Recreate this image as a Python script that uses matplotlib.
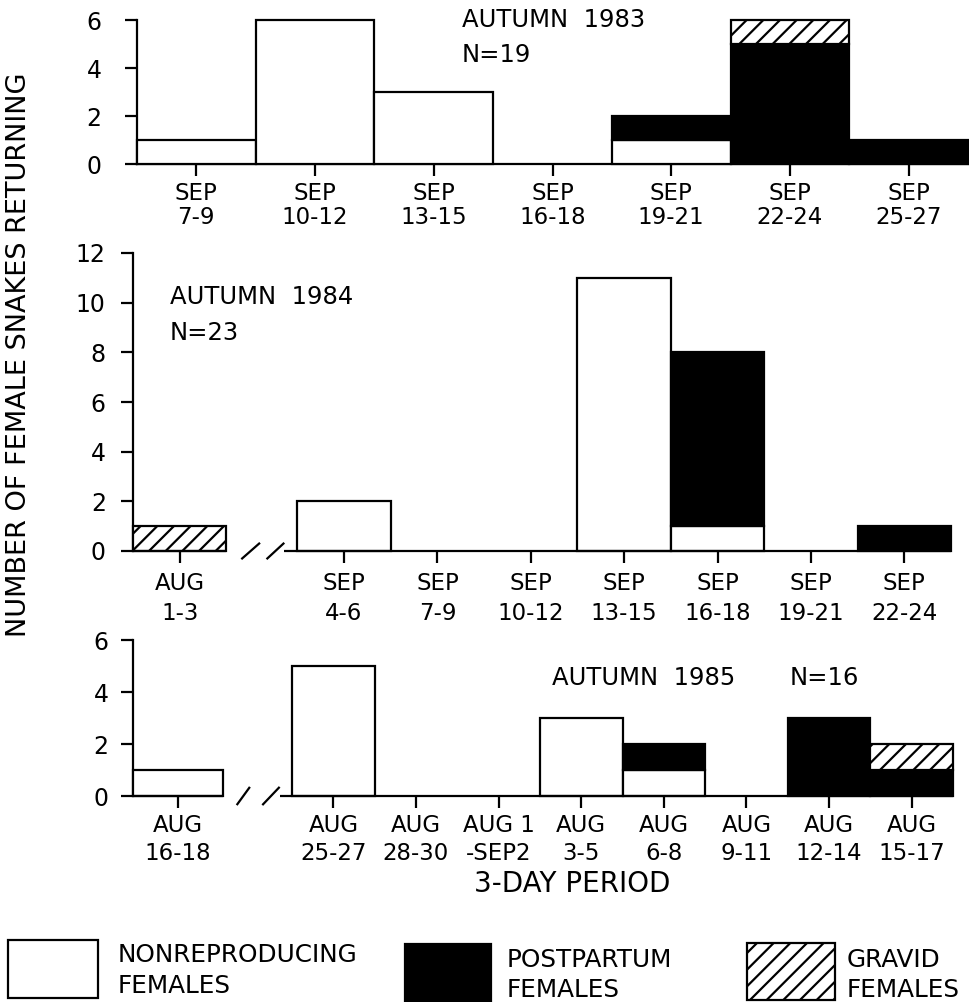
import numpy as np
import matplotlib.pyplot as plt
from matplotlib.patches import Rectangle

plt.rcParams['font.family'] = 'DejaVu Sans'
plt.rcParams['hatch.linewidth'] = 1.6

# Autumn 1983 (N=19)
labels_83 = ['SEP\n7-9', 'SEP\n10-12', 'SEP\n13-15', 'SEP\n16-18',
             'SEP\n19-21', 'SEP\n22-24', 'SEP\n25-27']
nonrepro_83 = [1, 6, 3, 0, 1, 0, 0]
postpartum_83 = [0, 0, 0, 0, 1, 5, 1]
gravid_83 = [0, 0, 0, 0, 0, 1, 0]

# Autumn 1984 (N=23)
labels_84 = ['AUG\n1-3', 'SEP\n4-6', 'SEP\n7-9', 'SEP\n10-12', 'SEP\n13-15',
             'SEP\n16-18', 'SEP\n19-21', 'SEP\n22-24']
nonrepro_84 = [0, 2, 0, 0, 11, 1, 0, 0]
postpartum_84 = [0, 0, 0, 0, 0, 7, 0, 1]
gravid_84 = [1, 0, 0, 0, 0, 0, 0, 0]

# Autumn 1985 (N=16)
labels_85 = ['AUG\n16-18', 'AUG\n25-27', 'AUG\n28-30', 'AUG 1\n-SEP2', 'AUG\n3-5',
             'AUG\n6-8', 'AUG\n9-11', 'AUG\n12-14', 'AUG\n15-17']
nonrepro_85 = [1, 5, 0, 0, 3, 1, 0, 0, 0]
postpartum_85 = [0, 0, 0, 0, 0, 1, 0, 3, 1]
gravid_85 = [0, 0, 0, 0, 0, 0, 0, 0, 1]

W, H = 969, 1002
fig = plt.figure(figsize=(W / 100, H / 100), dpi=100)


def px_axes(left, right, top, bottom):
    return fig.add_axes([left / W, 1 - bottom / H, (right - left) / W, (bottom - top) / H])


def stacked(ax, pos, widths, nonrepro, post, gravid):
    bottom = np.zeros(len(pos))
    styles = [(nonrepro, dict(facecolor='white')),
              (post, dict(facecolor='black')),
              (gravid, dict(facecolor='white', hatch='//'))]
    for vals, st in styles:
        vals = np.asarray(vals, dtype=float)
        m = vals > 0
        ax.bar(pos[m], vals[m], width=widths[m], bottom=bottom[m], edgecolor='black',
               linewidth=1.6, clip_on=False, zorder=3, **st)
        bottom += vals


def style(ax, ymax, ystep, pos, labels, xlim, ypad, xpad, lsp):
    ax.set_xlim(*xlim)
    ax.set_ylim(0, ymax)
    for s in ['top', 'right']:
        ax.spines[s].set_visible(False)
    for s in ['left', 'bottom']:
        ax.spines[s].set_linewidth(1.6)
    ax.set_yticks(np.arange(0, ymax + 1, ystep))
    ax.set_xticks(pos)
    ax.set_xticklabels(labels, linespacing=lsp, fontsize=16.5)
    ax.tick_params(direction='out', length=8.6, width=1.6)
    ax.tick_params(axis='y', pad=ypad, labelsize=17)
    ax.tick_params(axis='x', pad=xpad)


def broken_base(ax, xlim, seg_end, seg_start, slashes, dy):
    ax.spines['bottom'].set_visible(False)
    kw = dict(color='black', lw=1.6, clip_on=False, zorder=4, solid_capstyle='butt')
    ax.plot([xlim[0], seg_end], [0, 0], **kw)
    ax.plot([seg_start, xlim[1]], [0, 0], **kw)
    for a, b in slashes:
        ax.plot([a, b], [-dy, dy], **kw)


# --- top panel: 1983 ---
ax1 = px_axes(137, 968, 20, 164)
pos1 = np.arange(len(labels_83), dtype=float)
stacked(ax1, pos1, np.ones(len(pos1)), nonrepro_83, postpartum_83, gravid_83)
style(ax1, 6, 2, pos1, labels_83, (-0.5, 6.5), 17, 4, 1.1)

# --- middle panel: 1984 ---
ax2 = px_axes(133, 951, 253, 551)
pos2 = np.array([0.0] + [1.76 + i for i in range(len(labels_84) - 1)])
xl2 = (-0.5, pos2[-1] + 0.5)
stacked(ax2, pos2, np.ones(len(pos2)), nonrepro_84, postpartum_84, gravid_84)
style(ax2, 12, 2, pos2, labels_84, xl2, 11, 6.5, 1.4)
broken_base(ax2, xl2, 0.5, 1.12, [(0.66, 0.86), (0.93, 1.12)], 0.33)

# --- bottom panel: 1985 ---
ax3 = px_axes(133, 953, 640, 796)
pos3 = np.array([0.0] + [1.88 + i for i in range(len(labels_85) - 1)])
w3 = np.array([1.09] + [1.0] * (len(labels_85) - 1))
xl3 = (-0.545, pos3[-1] + 0.5)
stacked(ax3, pos3, w3, nonrepro_85, postpartum_85, gravid_85)
style(ax3, 6, 2, pos3, labels_85, xl3, 9, 4, 1.3)
broken_base(ax3, xl3, 0.545, 1.23, [(0.71, 0.87), (1.02, 1.23)], 0.35)

# --- panel annotations ---
ann = dict(fontsize=17.5, va='baseline')
fig.text(462 / W, 1 - 27 / H, 'AUTUMN  1983', **ann)
fig.text(462 / W, 1 - 62 / H, 'N=19', **ann)
fig.text(170 / W, 1 - 304 / H, 'AUTUMN  1984', **ann)
fig.text(170 / W, 1 - 340 / H, 'N=23', **ann)
fig.text(552 / W, 1 - 685 / H, 'AUTUMN  1985', **ann)
fig.text(790 / W, 1 - 685 / H, 'N=16', **ann)

fig.text(19 / W, 1 - 355 / H, 'NUMBER OF FEMALE SNAKES RETURNING',
         rotation=90, fontsize=19.5, ha='center', va='center')
fig.text(572 / W, 1 - 892 / H, '3-DAY PERIOD', fontsize=20, ha='center', va='baseline')

# --- legend ---
lg = fig.add_axes([0, 0, 1, 1], facecolor='none')
lg.set_xlim(0, W)
lg.set_ylim(H, 0)
lg.axis('off')
lg.add_patch(Rectangle((8, 940), 90, 58, facecolor='white', edgecolor='black', lw=1.6))
lg.add_patch(Rectangle((405, 944), 86, 58, facecolor='black', edgecolor='black', lw=1.6, clip_on=False))
lg.add_patch(Rectangle((747, 943), 88, 57, facecolor='white', edgecolor='black', lw=1.6, hatch='//'))
for x, y, t in [(118, 962, 'NONREPRODUCING'), (118, 993, 'FEMALES'),
                (507, 967, 'POSTPARTUM'), (507, 997, 'FEMALES'),
                (847, 967, 'GRAVID'), (847, 997, 'FEMALES')]:
    lg.text(x, y, t, fontsize=17.8, va='baseline')

plt.savefig('out.png', dpi=100)
